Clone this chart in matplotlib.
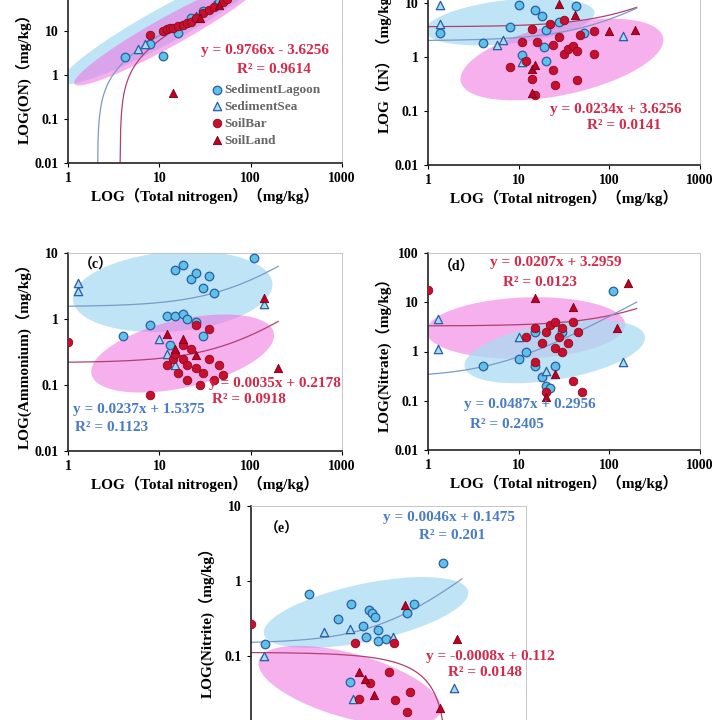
import numpy as np
import matplotlib
matplotlib.use("Agg")
import matplotlib.pyplot as plt
from matplotlib.ticker import FuncFormatter, LogLocator, NullLocator

plt.rcParams['font.family'] = ['Liberation Serif', 'Noto Sans CJK SC']
plt.rcParams['font.weight'] = 'bold'

# ---- data (x = total nitrogen, y = fraction), mg/kg ----
# (a) ON
a_lag_x = [4.2, 8, 11, 16, 22, 30, 45]
a_lag_y = [2.6, 5, 2.7, 9, 20, 28, 45]
a_sea_x = [5.8, 7, 25, 40]
a_sea_y = [4, 5, 22, 38]
a_bar_x = [8, 11, 12, 13, 14, 16, 18, 20, 22, 25, 30, 35, 40, 50, 55]
a_bar_y = [8, 10, 11, 11.5, 12, 13, 14, 15, 16, 20, 25, 30, 35, 45, 52]
a_land_x = [14, 28, 45]
a_land_y = [0.4, 20, 40]

# (b) IN
b_lag_x = [1.35, 4, 8, 10, 15, 18, 20, 19, 20, 11, 43, 52, 28]
b_lag_y = [2.8, 1.8, 3.6, 9.3, 7.5, 5.8, 3.2, 1.5, 0.85, 1.1, 8.7, 2.8, 4.5]
b_sea_x = [1.35, 1.35, 5.8, 6.8, 11, 140]
b_sea_y = [9, 4, 1.7, 2.1, 0.8, 2.4]
b_bar_x = [8, 11, 14, 14, 15, 16, 22, 24, 24, 25, 28, 32, 35, 40, 44, 44, 48, 68, 68, 32, 12]
b_bar_y = [0.65, 1.9, 3.3, 0.39, 0.2, 1.9, 4, 1.7, 0.58, 0.3, 2.3, 1.15, 1.4, 1.6, 1.3, 0.38, 2.6, 1.15, 3, 4.9, 0.85]
b_land_x = [14, 15, 14, 28, 42, 100, 190]
b_land_y = [0.6, 0.7, 0.22, 9.5, 6, 3, 3.2]

# (c) Ammonium
c_lag_x = [15, 18, 22, 25, 30, 35, 40, 110, 12, 15, 18, 20, 25, 8, 4, 13, 30]
c_lag_y = [5.5, 6.5, 4, 5, 3, 4.5, 2.5, 8.5, 1.1, 1.1, 1.2, 1.0, 0.9, 0.8, 0.55, 0.4, 0.55]
c_sea_x = [1.3, 1.3, 10, 140, 12, 15]
c_sea_y = [2.7, 3.5, 0.5, 1.7, 0.3, 0.2]
c_bar_x = [8, 12, 14, 15, 16, 18, 20, 20, 22, 25, 28, 30, 35, 40, 45, 50, 18, 25, 1, 35]
c_bar_y = [0.07, 0.2, 0.25, 0.3, 0.15, 0.25, 0.2, 0.12, 0.35, 0.18, 0.1, 0.15, 0.25, 0.12, 0.2, 0.14, 0.4, 0.8, 0.45, 0.7]
c_land_x = [140, 200, 15, 18, 25, 12]
c_land_y = [2.1, 0.18, 0.35, 0.5, 0.28, 0.6]

# (d) Nitrate
d_lag_x = [110, 15, 18, 20, 22, 12, 25, 4, 10, 30, 15]
d_lag_y = [17, 0.5, 0.3, 0.2, 0.18, 1, 0.5, 0.5, 0.7, 2.5, 2.5]
d_sea_x = [1.3, 1.3, 140, 20, 10]
d_sea_y = [4.5, 1.1, 0.6, 0.4, 2]
d_bar_x = [1, 12, 15, 18, 20, 22, 25, 28, 30, 35, 40, 45, 15, 20, 40, 50, 25, 30]
d_bar_y = [18, 2, 3, 1.5, 2.5, 3.5, 1.2, 2, 3, 1.5, 4, 2.5, 0.6, 0.15, 0.25, 0.15, 4, 1]
d_land_x = [160, 15, 40, 20, 120, 25]
d_land_y = [25, 12, 8, 0.12, 3, 0.35]

# (e) Nitrite
e_lag_x = [1.43, 4.3, 8.8, 12.2, 16.5, 18, 19.5, 21, 22.5, 24, 24.5, 30, 50, 60, 125, 12]
e_lag_y = [0.143, 0.68, 0.31, 0.49, 0.25, 0.18, 0.41, 0.37, 0.33, 0.22, 0.16, 0.17, 0.38, 0.5, 1.75, 0.045]
e_sea_x = [1.4, 6.3, 12, 35, 165, 13]
e_sea_y = [0.1, 0.21, 0.23, 0.18, 0.037, 0.027]
e_bar_x = [1, 13.5, 36, 32, 20, 54, 37, 15, 50]
e_bar_y = [0.27, 0.15, 0.15, 0.061, 0.043, 0.033, 0.026, 0.027, 0.018]
e_land_x = [48, 175, 15, 17.5, 22, 115]
e_land_y = [0.48, 0.17, 0.062, 0.049, 0.03, 0.02]

# ---- styles ----
RED_TXT = '#d42a4a'
BLUE_TXT = '#4a7cc4'
FS = {'family': ['Liberation Serif', 'Noto Sans CJK SC'], 'weight': 'bold'}

fig = plt.figure(figsize=(7.2, 7.2), dpi=100)


def make_ax(l, r, top, bot, ylo, yhi):
    ax = fig.add_axes([l / 720, 1 - bot / 720, (r - l) / 720, (bot - top) / 720])
    ax.set_xscale('log'); ax.set_yscale('log')
    ax.set_xlim(1, 1000); ax.set_ylim(ylo, yhi)
    fmt = FuncFormatter(lambda v, _: '%g' % v)
    ax.xaxis.set_major_formatter(fmt); ax.yaxis.set_major_formatter(fmt)
    ax.xaxis.set_major_locator(LogLocator(10)); ax.yaxis.set_major_locator(LogLocator(10))
    ax.xaxis.set_minor_locator(NullLocator()); ax.yaxis.set_minor_locator(NullLocator())
    for s in ['top', 'right']:
        ax.spines[s].set_color('#bbbbbb'); ax.spines[s].set_linewidth(0.6)
    for s in ['left', 'bottom']:
        ax.spines[s].set_color('#222222'); ax.spines[s].set_linewidth(1.2)
    ax.tick_params(labelsize=10, length=3, direction='out')
    for t in ax.get_xticklabels() + ax.get_yticklabels():
        t.set_fontweight('bold')
    ax.set_xlabel('LOG（Total nitrogen）（mg/kg）', fontsize=11, labelpad=2, **FS)
    return ax


def ellipse(ax, cx, cy, a, b, ang, color, alpha):
    t = np.linspace(0, 2 * np.pi, 200)
    th = np.deg2rad(ang)
    lx = np.log10(cx) + a * np.cos(t) * np.cos(th) - b * np.sin(t) * np.sin(th)
    ly = np.log10(cy) + a * np.cos(t) * np.sin(th) + b * np.sin(t) * np.cos(th)
    ax.fill(10 ** lx, 10 ** ly, color=color, alpha=alpha, lw=0, zorder=1)


def trend(ax, k, c, color):
    xs = np.logspace(0, np.log10(200), 400)
    ys = k * xs + c
    m = ys > 0
    ax.plot(xs[m], ys[m], color=color, lw=0.9, zorder=2)


def points(ax, lx, ly, sx, sy, bx, by, tx, ty):
    ax.scatter(lx, ly, s=38, marker='o', c='#5cc3e6', edgecolors='#2f5aa8', lw=0.9, zorder=4, label='SedimentLagoon')
    ax.scatter(sx, sy, s=36, marker='^', c='#9fe0ee', edgecolors='#2f5aa8', lw=0.9, zorder=4, label='SedimentSea')
    ax.scatter(bx, by, s=38, marker='o', c='#c8102e', edgecolors='#8a0a20', lw=0.6, zorder=4, label='SoilBar')
    ax.scatter(tx, ty, s=36, marker='^', c='#c00020', edgecolors='#700018', lw=0.6, zorder=4, label='SoilLand')


def eq(ax, x, y, s, color, ha='center'):
    ax.text(x, y, s, transform=ax.transAxes, color=color, fontsize=11, ha=ha, va='center', zorder=6, **FS)


# (a)
ax = make_ax(68, 342, -13, 163, 0.01, 100)
ellipse(ax, 12, 14, 1.75, 0.3, 50, '#a9dcf2', 0.75)
ellipse(ax, 13, 10, 1.6, 0.25, 50, '#f070e0', 0.55)
trend(ax, 1.0, -2.1, '#7a9ac8')
trend(ax, 0.9766, -3.6256, '#b04070')
points(ax, a_lag_x, a_lag_y, a_sea_x, a_sea_y, a_bar_x, a_bar_y, a_land_x, a_land_y)
ax.set_ylabel('LOG(ON)（mg/kg）', fontsize=11, labelpad=2, **FS)
eq(ax, 0.72, 0.64, 'y = 0.9766x - 3.6256', RED_TXT)
eq(ax, 0.75, 0.53, 'R² = 0.9614', RED_TXT)
leg = ax.legend(loc='upper left', bbox_to_anchor=(0.50, 0.48), frameon=False,
                handletextpad=0.1, labelspacing=0.35, borderaxespad=0, handlelength=1,
                prop={'family': 'Liberation Serif', 'size': 9.5})
for t in leg.get_texts():
    t.set_color('#666666')

# (b)
ax = make_ax(428, 700, -51, 165, 0.01, 100)
ellipse(ax, 8, 4.5, 0.95, 0.4, 12, '#a9dcf2', 0.75)
ellipse(ax, 30, 0.9, 1.2, 0.62, 25, '#f070e0', 0.55)
trend(ax, 0.0234, 3.6256, '#b04070')
trend(ax, 0.03, 2.0, '#7a9ac8')
points(ax, b_lag_x, b_lag_y, b_sea_x, b_sea_y, b_bar_x, b_bar_y, b_land_x, b_land_y)
ax.set_ylabel('LOG（IN）（mg/kg）', fontsize=11, labelpad=2, **FS)
eq(ax, 0.69, 0.255, 'y = 0.0234x + 3.6256', RED_TXT)
eq(ax, 0.72, 0.185, 'R² = 0.0141', RED_TXT)

# (c)
ax = make_ax(68, 342, 253, 451, 0.01, 10)
ellipse(ax, 14, 2.6, 1.1, 0.6, 8, '#a9dcf2', 0.75)
ellipse(ax, 18, 0.3, 1.05, 0.5, 20, '#f070e0', 0.55)
trend(ax, 0.0237, 1.5375, '#7a9ac8')
trend(ax, 0.0035, 0.2178, '#b04070')
points(ax, c_lag_x, c_lag_y, c_sea_x, c_sea_y, c_bar_x, c_bar_y, c_land_x, c_land_y)
ax.set_ylabel('LOG(Ammonium)（mg/kg）', fontsize=11, labelpad=2, **FS)
ax.text(0.04, 0.94, '（c）', transform=ax.transAxes, fontsize=10, va='center', **FS)
eq(ax, 0.755, 0.34, 'y = 0.0035x + 0.2178', RED_TXT)
eq(ax, 0.66, 0.26, 'R² = 0.0918', RED_TXT)
eq(ax, 0.26, 0.21, 'y = 0.0237x + 1.5375', BLUE_TXT)
eq(ax, 0.16, 0.12, 'R² = 0.1123', BLUE_TXT)

# (d)
ax = make_ax(428, 700, 253, 450, 0.01, 100)
ellipse(ax, 12, 3.0, 1.1, 0.62, 5, '#f070e0', 0.55)
ellipse(ax, 25, 1.0, 1.05, 0.55, 22, '#a9dcf2', 0.75)
trend(ax, 0.0207, 3.2959, '#b04070')
trend(ax, 0.0487, 0.2956, '#7a9ac8')
points(ax, d_lag_x, d_lag_y, d_sea_x, d_sea_y, d_bar_x, d_bar_y, d_land_x, d_land_y)
ax.set_ylabel('LOG(Nitrate)（mg/kg）', fontsize=11, labelpad=2, **FS)
ax.text(0.04, 0.93, '（d）', transform=ax.transAxes, fontsize=10, va='center', **FS)
eq(ax, 0.47, 0.95, 'y = 0.0207x + 3.2959', RED_TXT)
eq(ax, 0.41, 0.85, 'R² = 0.0123', RED_TXT)
eq(ax, 0.375, 0.23, 'y = 0.0487x + 0.2956', BLUE_TXT)
eq(ax, 0.29, 0.13, 'R² = 0.2405', BLUE_TXT)

# (e)
ax = make_ax(251, 526, 506, 731, 0.01, 10)
ellipse(ax, 18, 0.38, 1.15, 0.38, 15, '#a9dcf2', 0.75)
ellipse(ax, 12, 0.04, 1.05, 0.42, -20, '#f070e0', 0.55)
trend(ax, 0.0046, 0.1475, '#7a9ac8')
trend(ax, -0.0008, 0.112, '#b04070')
points(ax, e_lag_x, e_lag_y, e_sea_x, e_sea_y, e_bar_x, e_bar_y, e_land_x, e_land_y)
ax.set_ylabel('LOG(Nitrite)（mg/kg）', fontsize=11, labelpad=2, **FS)
ax.text(0.05, 0.9, '（e）', transform=ax.transAxes, fontsize=10, va='center', **FS)
eq(ax, 0.72, 0.95, 'y = 0.0046x + 0.1475', BLUE_TXT)
eq(ax, 0.73, 0.87, 'R² = 0.201', BLUE_TXT)
eq(ax, 0.87, 0.33, 'y = -0.0008x + 0.112', RED_TXT)
eq(ax, 0.85, 0.26, 'R² = 0.0148', RED_TXT)

fig.savefig('out.png', dpi=100)
